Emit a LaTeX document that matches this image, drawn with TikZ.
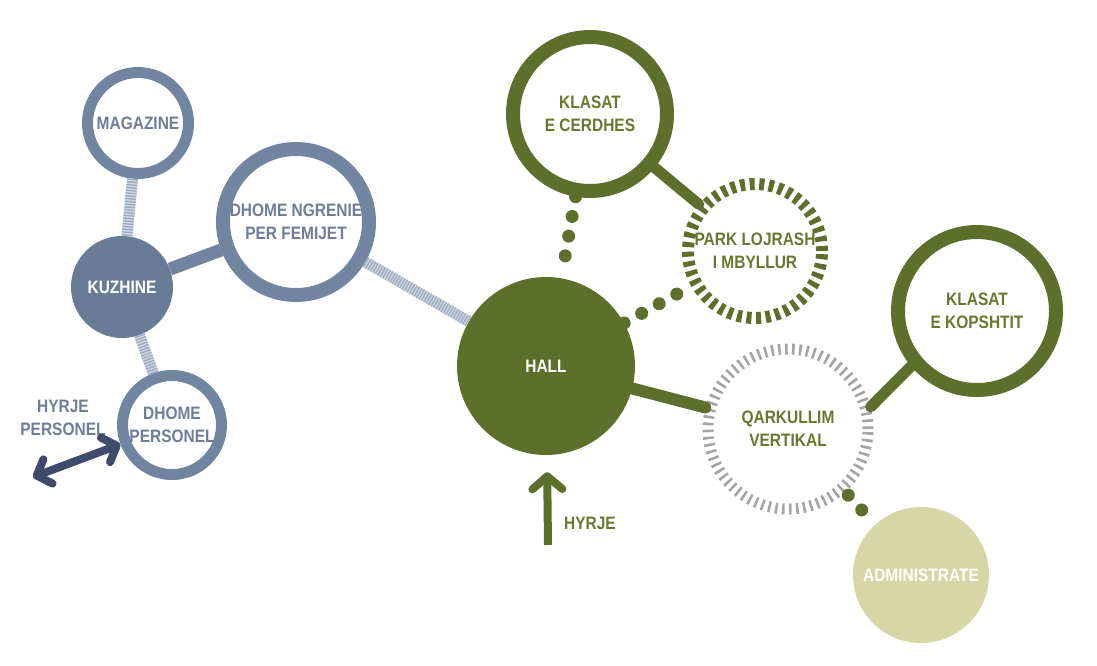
\documentclass[tikz,border=0pt]{standalone}
\usepackage{fontspec}
\setmainfont{Liberation Sans}[FakeStretch=0.86]
\usetikzlibrary{arrows.meta}
\definecolor{slatering}{RGB}{114,133,160}
\definecolor{slatetext}{RGB}{110,126,152}
\definecolor{slatehub}{RGB}{104,124,152}
\definecolor{stripelight}{RGB}{208,215,225}
\definecolor{stripedark}{RGB}{160,172,192}
\definecolor{staffnavy}{RGB}{62,75,106}
\definecolor{hallgreen}{RGB}{94,110,43}
\definecolor{greentext}{RGB}{104,120,48}
\definecolor{stairgray}{RGB}{165,165,165}
\definecolor{adminfill}{RGB}{214,215,166}
\newcommand\roomfont{\fontsize{18}{23}\selectfont\bfseries}

\begin{document}
\begin{tikzpicture}[x=1pt, y=-1pt,
  bluering/.style={circle, draw=slatering, fill=white, line width=11pt, inner sep=0pt,
                   align=center, text=slatetext, font=\roomfont},
  bluehub/.style={circle, fill=slatehub, inner sep=0pt, align=center,
                  text=white, font=\roomfont},
  greenring/.style={circle, draw=hallgreen, fill=white, line width=14pt, inner sep=0pt,
                    align=center, text=greentext, font=\roomfont},
  greenhub/.style={circle, fill=hallgreen, inner sep=0pt, align=center,
                   text=white, font=\roomfont},
  parkring/.style={circle, draw=hallgreen, line width=12pt, dash pattern=on 5pt off 4.6pt,
                   inner sep=0pt, align=center, text=greentext, font=\roomfont},
  stairring/.style={circle, draw=stairgray, line width=11pt, dash pattern=on 2.6pt off 4.4pt,
                    inner sep=0pt, align=center, text=greentext, font=\roomfont},
  stripe/.style={line width=11pt, draw=stripelight,
                 postaction={draw=stripedark, line width=11pt, dash pattern=on 1.4pt off 1.4pt}},
  bluelink/.style={line width=13pt, draw=slatering},
  greenlink/.style={line width=11pt, draw=hallgreen, line cap=round},
  dots/.style={line width=13pt, draw=hallgreen, line cap=round, dash pattern=on 0pt off 20pt},
  arr/.style={-{Straight Barb[length=13pt, width=30pt, round]}, line width=8pt, draw=hallgreen},
  dblarr/.style={{Straight Barb[length=12pt, width=26pt, round]}-{Straight Barb[length=12pt, width=26pt, round]},
                 line width=8pt, draw=staffnavy}
]
  \useasboundingbox (0,0) rectangle (1097,665);

  % Kitchen side
  \node[bluering, minimum size=101pt] (magazine) at (138,123) {MAGAZINE};
  \node[bluehub,  minimum size=102pt] (kuzhine)  at (122,287) {KUZHINE};
  \node[bluering, minimum size=146pt, line width=14pt] (ngrenie) at (296,222)
        {DHOME NGRENIE\\PER FEMIJET};
  \node[bluering, minimum size=99pt]  (personel) at (172,425) {DHOME\\PERSONEL};

  % Hall
  \node[greenhub, minimum size=178pt] (hall) at (546,366) {HALL};

  % Classes
  \node[greenring, minimum size=154pt] (cerdhes)  at (590,114) {KLASAT\\E CERDHES};
  \node[parkring,  minimum size=134pt] (park)     at (755,251) {PARK LOJRASH\\I MBYLLUR};
  \node[stairring, minimum size=160pt] (qark)     at (788,429) {QARKULLIM\\VERTIKAL};
  \node[greenring, minimum size=158pt] (kopshtit) at (977,311) {KLASAT\\E KOPSHTIT};
  \node[circle, fill=adminfill, inner sep=0pt, minimum size=136pt, text=white, font=\roomfont]
        (admin) at (921,575) {ADMINISTRATE};

  % Entrances
  \coordinate (hyrjefoot) at (548,545);
  \coordinate (staffdoor) at (33,477);
  \node[text=greentext, font=\roomfont] (hyrje) at (590,523) {HYRJE};
  \node[text=slatetext, font=\roomfont, align=center] (hyrjestaff) at (63,418)
        {HYRJE\\PERSONEL};

  % ── Links ─────────────────────────────────────────────
  \draw[stripe] (magazine) -- (kuzhine);
  \draw[stripe] (kuzhine) -- (personel);
  \draw[stripe] (ngrenie) -- (hall);
  \draw[bluelink] (kuzhine) -- (ngrenie);

  \draw[greenlink] (cerdhes) -- (park);
  \draw[greenlink, line width=12pt] (hall) -- (qark);
  \draw[greenlink] (qark.15) -- (kopshtit.220);

  \draw[dots, shorten >=12pt] (cerdhes) -- (hall);
  \draw[dots] (hall) -- (park);
  \draw[dots, shorten <=4pt, shorten >=8pt] (qark) -- (admin);

  % ── Arrows ────────────────────────────────────────────
  \draw[arr, shorten >=17pt] (hyrjefoot) -- (hall);
  \draw[dblarr] (staffdoor) -- (personel);

\end{tikzpicture}
\end{document}
